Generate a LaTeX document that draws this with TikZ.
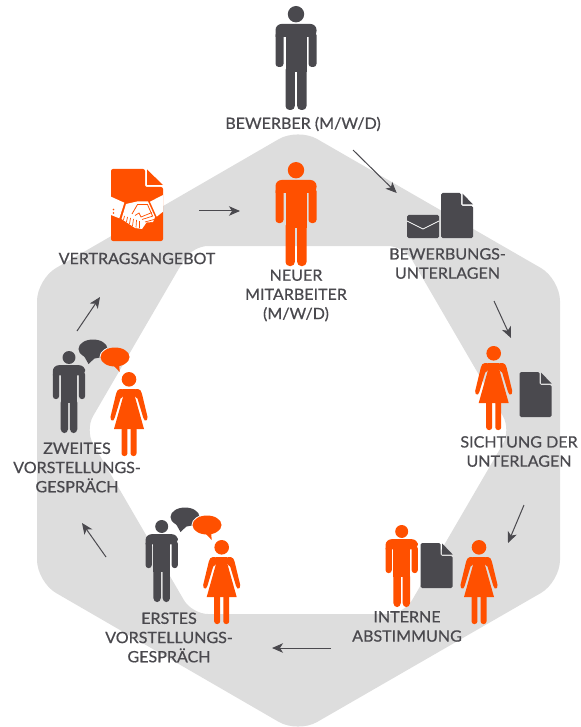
\documentclass[tikz,border=0pt]{standalone}
\usepackage{fontspec}
\setmainfont{Lato}[FakeBold=0.6,FakeStretch=1.03]
\usetikzlibrary{arrows.meta}
\definecolor{ink}{HTML}{4A494E}
\definecolor{hot}{HTML}{FF5000}
\definecolor{band}{HTML}{DDDDDD}
\tikzset{
  x=1pt,y=-1pt,
  lab/.style={font=\fontsize{15.6}{19.2}\selectfont,text=ink,align=center,inner sep=0pt},
  flow/.style={draw=ink,line width=1pt,-{Stealth[length=11pt,width=9.5pt,inset=3pt]}},
  man/.pic={
    \fill (0,8.2) circle (8.2);
    \fill (-20.5,31) [rounded corners=6] -- (-20.5,18) -- (20.5,18) -- (20.5,31) [sharp corners] -- cycle;
    \fill[rounded corners=3.2] (-20.5,26) rectangle (-12.5,61);
    \fill[rounded corners=3.2] (12.5,26) rectangle (20.5,61);
    \fill (-10.5,24) rectangle (10.5,66);
    \fill[rounded corners=4] (-10.5,60) rectangle (-1.2,104);
    \fill[rounded corners=4] (1.2,60) rectangle (10.5,104);
  },
  woman/.pic={
    \fill (0,7.3) circle (7.3);
    \fill (-6,17) -- (6,17) -- (6,25) -- (15,57) -- (-15,57) -- (-6,25) -- cycle;
    \fill[rounded corners=1.6] (5,17) -- (10.5,17) -- (12.5,20) -- (18.9,46.5) -- (16.8,49.5) -- (14.8,47.5) -- (8,25) -- (5,25) -- cycle;
    \fill[rounded corners=1.6] (-5,17) -- (-10.5,17) -- (-12.5,20) -- (-18.9,46.5) -- (-16.8,49.5) -- (-14.8,47.5) -- (-8,25) -- (-5,25) -- cycle;
    \fill[rounded corners=2.6] (1.6,54) rectangle (7.5,84);
    \fill[rounded corners=2.6] (-7.5,54) rectangle (-1.6,84);
  },
  sheet/.pic={
    \fill[rounded corners=1.5] (0,0) -- (20,0) -- (20,13) -- (32,13) -- (32,45) -- (0,45) -- cycle;
    \fill (21.5,0.5) -- (32,11.5) -- (21.5,11.5) -- cycle;
  },
  talk/.pic={
    \fill[ink] (-22,-5) ellipse[x radius=14.5,y radius=9.5];
    \fill[ink] (-31,2) -- (-26.5,10) -- (-19,3) -- cycle;
    \begin{scope}
      \clip (-22,-5) ellipse[x radius=14.5,y radius=9.5];
      \fill[white] (0,3) ellipse[x radius=15.5,y radius=10.5];
    \end{scope}
    \fill[hot] (0,3) ellipse[x radius=14.5,y radius=9.5];
    \fill[hot] (-3,10) -- (4.7,18) -- (4,9) -- cycle;
  },
}
\begin{document}
\begin{tikzpicture}
\useasboundingbox (0,0) rectangle (580,727);
\fill[band,even odd rule]
  [rounded corners=22] (298,128) -- (560,279) -- (560,582) -- (298,733) -- (37,582) -- (37,279) -- cycle
  [rounded corners=16] (192,246) -- (404,246) -- (511,430) -- (404,614) -- (192,614) -- (85,430) -- cycle;

\pic[ink] at (296,6) {man};
\pic[hot] at (296,162) {man};
\pic[hot,scale=.79] at (401.7,525) {man};
\pic[ink,scale=.79] at (161.7,520) {man};
\pic[ink,scale=.79] at (69,351) {man};
\pic[hot] at (493.7,346) {woman};
\pic[hot] at (479,540) {woman};
\pic[hot] at (221.7,540) {woman};
\pic[hot] at (129,372) {woman};
\pic[ink] at (441,193) {sheet};
\pic[ink] at (519.5,372) {sheet};
\pic[ink] at (420.7,543) {sheet};
\pic at (207,522) {talk};
\pic at (115,354) {talk};

% envelope
\fill[ink,rounded corners=1.5] (407,215) rectangle (439,238);
\draw[white,line width=0.8pt] (407,221) -- (423,229) -- (439,221);

% contract
\fill[hot,rounded corners=2] (111,169) -- (145,169) -- (145,187) -- (163,187) -- (163,241) -- (111,241) -- cycle;
\fill[hot] (147,169.5) -- (163,185) -- (147,185) -- cycle;
\fill[white] (111,196.7) -- (124.3,202.7) -- (119.3,218.3) -- (111,215) -- cycle;
\fill[white] (163,195) -- (163,211.7) -- (156.7,216.7) -- (150,201.7) -- cycle;
\fill[white] (126,204) -- (137,201.5) -- (148,201.5) -- (155,217) -- (153,222) -- (146.5,222.5) -- (142,229) -- (135,228) -- (121.5,219) -- cycle;
\draw[hot,line width=.8pt] (132,214) -- (137.5,204.5) -- (147.5,204.5) -- (152.5,216);
\draw[hot,line width=.7pt] (135,215.5) -- (139,213) -- (141,217) -- (152,212.5) (142,219.5) -- (153,216) (145,222) -- (154,219.5);
\draw[hot,line width=.7pt] (124.5,216) -- (123.5,220) (127.5,217) -- (126.5,222) (130.5,218) -- (129.5,224) (133.5,219) -- (132.5,226) (136.5,220) -- (136,227.5) (139.5,221) -- (139.5,228);
\fill[hot] (113.5,209.5) circle (.9) (113.5,213) circle (.9);

\node[lab] (a) at (303,124) {BEWERBER (M/W/D)};
\node[lab] (b) at (447.5,263.5) {BEWERBUNGS-\\UNTERLAGEN};
\node[lab] (c) at (519,451.5) {SICHTUNG DER\\UNTERLAGEN};
\node[lab] (d) at (407,626.5) {INTERNE\\ABSTIMMUNG};
\node[lab] (e) at (169,637.5) {ERSTES\\VORSTELLUNGS-\\GESPRÄCH};
\node[lab] (f) at (77,467.5) {ZWEITES\\VORSTELLUNGS-\\GESPRÄCH};
\node[lab] (g) at (137,258.5) {VERTRAGSANGEBOT};
\node[lab] (h) at (296,295.5) {NEUER\\MITARBEITER\\(M/W/D)};

\coordinate (a1) at (353,150); \coordinate (a2) at (396.7,193);
\coordinate (b1) at (494,301); \coordinate (b2) at (511,338);
\coordinate (c1) at (524,505); \coordinate (c2) at (508,543);
\coordinate (d1) at (331,648); \coordinate (d2) at (272,648);
\coordinate (e1) at (106,557); \coordinate (e2) at (82,523);
\coordinate (f1) at (77,331); \coordinate (f2) at (100,297);
\coordinate (g1) at (199,211); \coordinate (g2) at (240,211);
\draw[flow] (a1) -- (a2);
\draw[flow] (b1) -- (b2);
\draw[flow] (c1) -- (c2);
\draw[flow] (d1) -- (d2);
\draw[flow] (e1) -- (e2);
\draw[flow] (f1) -- (f2);
\draw[flow] (g1) -- (g2);
\end{tikzpicture}
\end{document}
